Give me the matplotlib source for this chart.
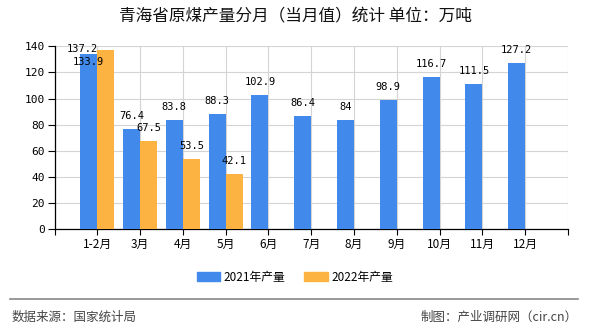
import matplotlib
matplotlib.use("Agg")
import matplotlib.pyplot as plt
from matplotlib.patches import Patch
from matplotlib.lines import Line2D

plt.rcParams['font.family'] = ['Noto Sans CJK SC', 'DejaVu Sans']

title = "青海省原煤产量分月（当月值）统计 单位：万吨"
categories = ["1-2月", "3月", "4月", "5月", "6月", "7月", "8月", "9月", "10月", "11月", "12月"]
series_2021 = [133.9, 76.4, 83.8, 88.3, 102.9, 86.4, 84, 98.9, 116.7, 111.5, 127.2]
series_2022 = [137.2, 67.5, 53.5, 42.1]
legend_labels = ["2021年产量", "2022年产量"]
source_text = "数据来源：国家统计局"
credit_text = "制图：产业调研网（cir.cn）"

c2021 = '#418AEB'
c2022 = '#FCB342'

fig = plt.figure(figsize=(5.9, 3.3), dpi=100)
ax = fig.add_axes([54.5/590, (330-229.3)/330, (568-54.5)/590, (229.3-46.3)/330])

w = 0.4
pos = list(range(1, len(categories) + 1))
x21 = pos
x22 = pos[:len(series_2022)]
ax.bar(x21, series_2021, width=w, align='edge', color=c2021, zorder=3)
ax.bar(x22, series_2022, width=w, align='edge', color=c2022, zorder=3)
# shift 2021 bars to the left of tick
for p in ax.patches[:len(series_2021)]:
    p.set_x(p.get_x() - w)

# label nudges (pixels) for overlapping labels
nudge21 = {0: (0, -20.5)}
nudge22 = {0: (-23.5, -12)}

def lab(v):
    return f"{v:g}"

for i, v in enumerate(series_2021):
    dx, dy = nudge21.get(i, (0, 0))
    ax.annotate(lab(v), (x21[i] - w / 2, v), xytext=(dx, 13 + dy), textcoords='offset pixels',
                ha='center', va='center', fontsize=7.5, family='DejaVu Sans Mono', zorder=5)
for i, v in enumerate(series_2022):
    dx, dy = nudge22.get(i, (0, 0))
    ax.annotate(lab(v), (x22[i] + w / 2, v), xytext=(dx, 13 + dy), textcoords='offset pixels',
                ha='center', va='center', fontsize=7.5, family='DejaVu Sans Mono', zorder=5)

ax.set_xlim(0, len(categories) + 1)
ax.set_ylim(0, 140)
ax.set_yticks(range(0, 141, 20))
ax.set_xticks(range(0, len(categories) + 2))
ax.set_xticklabels([""] + categories + [""])
ax.tick_params(axis='x', length=4, width=0.8, labelsize=8.5, pad=2, colors='black')
ax.tick_params(axis='y', length=5, width=0.8, labelsize=8.5, pad=2, colors='black')
for lbl in ax.get_yticklabels():
    lbl.set_family('DejaVu Sans Mono')
    lbl.set_fontsize(8)

ax.grid(True, color='#d4d4d4', linewidth=0.8, zorder=0)
ax.set_axisbelow(True)
for s in ['top', 'right']:
    ax.spines[s].set_visible(False)
for s in ['left', 'bottom']:
    ax.spines[s].set_color('black')
    ax.spines[s].set_linewidth(0.9)

fig.text(0.5, 1 - 17/330, title, ha='center', va='center', fontsize=12, color='#111111')

handles = [Patch(color=c2021), Patch(color=c2022)]
fig.legend(handles, legend_labels, loc='center', bbox_to_anchor=(0.5, 1 - 277/330), ncol=2,
           frameon=False, fontsize=8.5, handlelength=2.0, handleheight=0.9, handletextpad=0.3,
           columnspacing=1.6)

fig.add_artist(Line2D([10/590, 578/590], [1 - 299/330, 1 - 299/330], color='#888888', linewidth=1.2))
fig.text(12/590, 1 - 317.5/330, source_text, ha='left', va='center', fontsize=9, color='#444444')
fig.text(578/590, 1 - 317.5/330, credit_text, ha='right', va='center', fontsize=9, color='#444444')

fig.savefig('out.png', dpi=100)
